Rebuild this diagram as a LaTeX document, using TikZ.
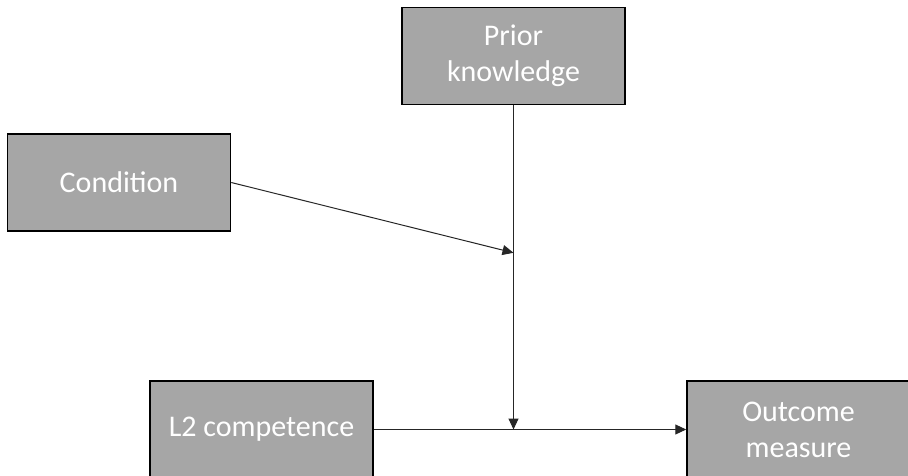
\documentclass[tikz,border=0pt]{standalone}
\usepackage{fontspec}
\setmainfont{Carlito}
\usetikzlibrary{arrows.meta,calc}
\definecolor{boxgrey}{HTML}{A6A6A6}
\tikzset{
  varbox/.style={draw=black, line width=1.5pt, fill=boxgrey, text=white,
    minimum width=223pt, minimum height=97pt, inner sep=0pt, align=center,
    font=\fontsize{30}{36}\selectfont},
  conn/.style={draw=black!85, line width=1pt, -{Triangle[length=11pt,width=10pt]}}
}
\begin{document}
\begin{tikzpicture}[x=1pt,y=-1pt]
\useasboundingbox (0,0) rectangle (908,476);
\clip (0,0) rectangle (908,476);
\fill[white] (0,0) rectangle (908,476);
\node[varbox] (prior) at (513.5,56) {Prior\\knowledge};
\node[varbox] (cond) at (119,182.5) {Condition};
\node[varbox] (l2) at (261.5,429.5) {L2 competence};
\node[varbox] (out) at (798.5,429.5) {Outcome\\measure};
\coordinate (j) at (prior.south |- l2.east);
\coordinate (m) at ($(prior.south)!0.455!(j)$);
\draw[conn] (prior.south) -- (j);
\draw[conn] (cond.east) -- (m);
\draw[conn] (l2.east) -- (out.west);
\end{tikzpicture}
\end{document}
